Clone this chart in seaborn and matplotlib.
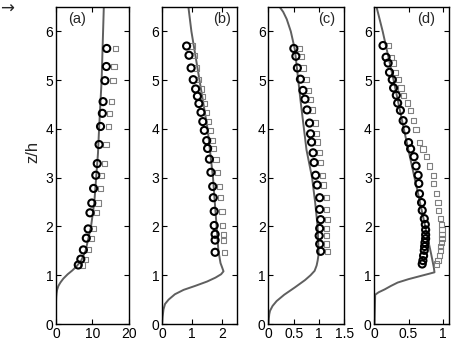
import numpy as np
import pandas as pd
import matplotlib
matplotlib.use("Agg")
import matplotlib.pyplot as plt
import seaborn as sns

sns.set_theme(style="white")
plt.rcParams['font.family'] = ['Liberation Sans', 'DejaVu Sans']
plt.rcParams['xtick.direction'] = 'in'
plt.rcParams['ytick.direction'] = 'in'

# ---- panel (a) ----
z_a = [5.65, 5.28, 4.99, 4.56, 4.32, 4.05, 3.68, 3.29, 3.05, 2.78, 2.48, 2.28, 1.95, 1.76, 1.52, 1.33, 1.21]
circ_a = [13.9, 13.8, 13.4, 12.9, 12.7, 12.2, 11.8, 11.3, 10.9, 10.3, 9.8, 9.3, 8.8, 8.3, 7.5, 6.8, 6.1]
sq_a = [16.2, 15.9, 15.6, 15.2, 14.6, 14.3, 13.7, 13.2, 12.5, 12.1, 11.5, 11.0, 10.2, 9.7, 8.8, 8.1, 7.3]
line_z_a = [0, 0.45, 0.55, 0.63, 0.7, 0.78, 0.85, 0.93, 1.02, 1.1, 1.18, 1.3, 1.5, 2.0, 2.5, 3.0, 3.5, 4.0, 5.0, 6.0, 6.5]
line_x_a = [0, 0, 0.05, 0.15, 0.3, 0.65, 1.2, 2.0, 3.2, 4.5, 5.6, 6.9, 8.1, 9.6, 10.5, 11.0, 11.5, 11.8, 12.5, 12.9, 13.1]

# ---- panel (b) ----
z_b = [5.70, 5.51, 5.25, 5.01, 4.82, 4.67, 4.52, 4.34, 4.15, 3.97, 3.76, 3.60, 3.38, 3.11, 2.82, 2.59, 2.31, 2.02, 1.84, 1.72, 1.47]
circ_b = [0.82, 0.90, 0.97, 1.04, 1.12, 1.18, 1.23, 1.30, 1.36, 1.41, 1.49, 1.52, 1.58, 1.63, 1.69, 1.71, 1.74, 1.74, 1.77, 1.77, 1.77]
sq_b = [1.00, 1.08, 1.15, 1.22, 1.30, 1.36, 1.42, 1.49, 1.55, 1.61, 1.69, 1.73, 1.80, 1.86, 1.93, 1.96, 2.00, 2.02, 2.05, 2.06, 2.07]
line_z_b = [0, 0.15, 0.3, 0.41, 0.5, 0.61, 0.7, 0.78, 0.87, 0.95, 1.02, 1.08, 1.15, 1.25, 1.5, 2.0, 3.0, 4.0, 5.0, 6.0, 6.5]
line_x_b = [0, 0.02, 0.05, 0.1, 0.22, 0.43, 0.72, 1.1, 1.5, 1.78, 1.97, 2.05, 2.01, 1.95, 1.88, 1.82, 1.70, 1.52, 1.25, 0.98, 0.88]

# ---- panel (c) ----
z_c = [5.65, 5.49, 5.25, 5.02, 4.79, 4.61, 4.39, 4.12, 3.90, 3.73, 3.51, 3.31, 3.05, 2.85, 2.59, 2.35, 2.14, 1.96, 1.81, 1.64, 1.49]
circ_c = [0.50, 0.54, 0.57, 0.63, 0.68, 0.72, 0.76, 0.81, 0.83, 0.85, 0.88, 0.90, 0.93, 0.96, 1.01, 1.01, 1.03, 1.01, 1.00, 1.01, 1.03]
sq_c = [0.61, 0.65, 0.68, 0.74, 0.79, 0.83, 0.87, 0.92, 0.95, 0.97, 1.00, 1.02, 1.06, 1.09, 1.14, 1.14, 1.17, 1.15, 1.14, 1.15, 1.17]
line_z_c = [0, 0.1, 0.2, 0.27, 0.37, 0.47, 0.6, 0.75, 0.9, 1.0, 1.09, 1.2, 1.3, 1.44, 1.99, 2.5, 3.0, 3.57, 4.6, 5.63, 6.0, 6.25, 6.4, 6.5]
line_x_c = [0, 0.005, 0.015, 0.03, 0.08, 0.16, 0.31, 0.52, 0.72, 0.83, 0.91, 0.95, 0.97, 0.99, 0.97, 0.92, 0.86, 0.75, 0.63, 0.52, 0.44, 0.36, 0.29, 0.22]

# ---- panel (d) ----
z_d = [5.71, 5.47, 5.35, 5.16, 5.01, 4.84, 4.69, 4.53, 4.38, 4.17, 3.98, 3.72, 3.59, 3.43, 3.24, 3.05,
       2.88, 2.67, 2.49, 2.33, 2.16, 2.04, 1.93, 1.83, 1.75, 1.67, 1.59, 1.51, 1.40, 1.30, 1.23]
circ_d = [0.125, 0.17, 0.20, 0.22, 0.26, 0.28, 0.32, 0.34, 0.38, 0.42, 0.46, 0.50, 0.53, 0.58, 0.61, 0.64,
          0.65, 0.66, 0.69, 0.70, 0.73, 0.745, 0.75, 0.75, 0.75, 0.74, 0.735, 0.73, 0.72, 0.71, 0.70]
sq_d = [0.21, 0.25, 0.27, 0.31, 0.35, 0.39, 0.43, 0.48, 0.53, 0.57, 0.61, 0.66, 0.71, 0.76, 0.81, 0.87,
        0.87, 0.91, 0.93, 0.94, 0.97, 0.98, 0.99, 0.99, 0.99, 0.98, 0.97, 0.97, 0.95, 0.93, 0.91]
line_z_d = [0, 0.6, 0.65, 0.71, 0.78, 0.85, 0.92, 0.99, 1.03, 1.06, 1.16, 1.44, 1.99, 2.67, 3.36, 4.0, 5.0, 6.0, 6.5]
line_x_d = [0, 0.01, 0.06, 0.15, 0.24, 0.34, 0.5, 0.69, 0.8, 0.88, 0.87, 0.83, 0.745, 0.64, 0.53, 0.43, 0.28, 0.12, 0.03]

panels = [
    ('(a)', z_a, circ_a, sq_a, line_z_a, line_x_a, (0, 20), [0, 10, 20], ['0', '10', '20'], 0.29),
    ('(b)', z_b, circ_b, sq_b, line_z_b, line_x_b, (0, 2.5), [0, 1, 2], ['0', '1', '2'], 0.80),
    ('(c)', z_c, circ_c, sq_c, line_z_c, line_x_c, (0, 1.5), [0, 0.5, 1, 1.5], ['0', '0.5', '1', '1.5'], 0.76),
    ('(d)', z_d, circ_d, sq_d, line_z_d, line_x_d, (0, 1.1), [0, 0.5, 1], ['0', '0.5', '1'], 0.69),
]

W, H = 452, 342
lefts = [56, 162, 268.5, 374.5]
widths = [73, 75, 76, 75]
ax_bottom, ax_top = 324, 7

fig = plt.figure(figsize=(W / 100, H / 100), dpi=100)

for (lab, z, circ, sq, lz, lx, xlim, xt, xtl, labx), l, w in zip(panels, lefts, widths):
    ax = fig.add_axes([l / W, (H - ax_bottom) / H, w / W, (ax_bottom - ax_top) / H])
    df_line = pd.DataFrame({'x': lx, 'z': lz})
    sns.lineplot(data=df_line, x='x', y='z', sort=False, estimator=None, orient='y',
                 color='#5f5f5f', linewidth=1.4, ax=ax)
    df_pts = pd.DataFrame({'circ': circ, 'sq': sq, 'z': z})
    sns.scatterplot(data=df_pts, x='sq', y='z', marker='s', s=14, facecolor='none',
                    edgecolor='#808080', linewidth=0.8, ax=ax, zorder=3)
    sns.scatterplot(data=df_pts, x='circ', y='z', marker='o', s=26, facecolor='none',
                    edgecolor='black', linewidth=1.5, ax=ax, zorder=4)
    ax.set_xlim(*xlim)
    ax.set_ylim(0, 6.5)
    ax.set_xticks(xt)
    ax.set_xticklabels(xtl)
    ax.set_yticks(range(7))
    ax.set_xlabel('')
    ax.set_ylabel('')
    ax.tick_params(axis='both', which='both', direction='in', length=3.5, width=0.8,
                   top=True, right=True, bottom=True, left=True, labelsize=10, pad=2,
                   colors='black')
    for sp in ax.spines.values():
        sp.set_color('black')
        sp.set_linewidth(1.0)
    ax.text(labx, 0.962, lab, transform=ax.transAxes, ha='center', va='center', fontsize=10.5)

fig.text(33 / W, 1 - 152 / H, 'z/h', rotation=90, ha='center', va='center', fontsize=12)
fig.text(0.0, 1 - 9 / H, '\u2192', ha='left', va='center', fontsize=12,
         family=['DejaVu Sans'])

fig.savefig('out.png', dpi=100)
